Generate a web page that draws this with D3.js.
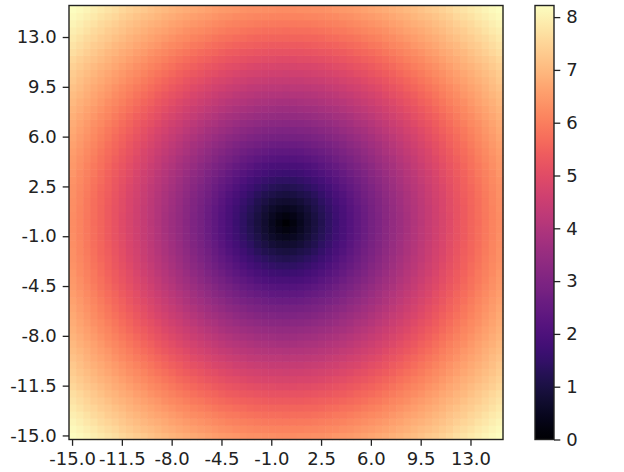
<!DOCTYPE html>
<html>
<head>
<meta charset="utf-8">
<script src="https://d3js.org/d3.v7.min.js"></script>
<style>
  body { margin: 0; background: #fff; }
  text { font-family: "DejaVu Sans", sans-serif; fill: #222; }
</style>
</head>
<body>
<svg id="chart" width="624" height="472"></svg>
<script>
// Grid coordinates (same for x and y), step 0.5
const gridValues = d3.range(61).map(i => -15 + i * 0.5);

// Tick labels shown on both axes (every 7th grid value)
const tickLabels = ["-15.0", "-11.5", "-8.0", "-4.5", "-1.0", "2.5", "6.0", "9.5", "13.0"];
const tickIndex = [0, 7, 14, 21, 28, 35, 42, 49, 56];

const profileRadius = [0, 2, 4, 6, 8, 10, 12, 14, 16, 18, 20, 21.21];
const profileValue = [0, 0.95, 1.9, 2.8, 3.62, 4.4, 5.15, 5.9, 6.6, 7.25, 7.9, 8.22];

// Colourbar ticks
const colorbarTicks = [0, 1, 2, 3, 4, 5, 6, 7, 8];

const svg = d3.select("#chart");

const plot = { left: 69, top: 5.5, size: 434 };
const cbar = { left: 535, width: 19 };

const valueOf = d3.scaleLinear().domain(profileRadius).range(profileValue);
const vmax = d3.max(profileValue);
const colorScale = d3.scaleSequential(d3.interpolateMagma).domain([0, vmax]);

const x = d3.scaleBand()
    .domain(d3.range(gridValues.length))
    .range([plot.left, plot.left + plot.size]);
// origin lower: index 0 at the bottom
const y = d3.scaleBand()
    .domain(d3.range(gridValues.length))
    .range([plot.top + plot.size, plot.top]);

// Build cells
const cells = [];
gridValues.forEach((gy, j) => {
    gridValues.forEach((gx, i) => {
        cells.push({ i, j, v: valueOf(Math.hypot(gx, gy)) });
    });
});

svg.append("g")
    .selectAll("rect")
    .data(cells)
    .enter()
    .append("rect")
    .attr("x", d => x(d.i))
    .attr("y", d => y(d.j))
    .attr("width", x.bandwidth() + 0.6)
    .attr("height", y.bandwidth() + 0.6)
    .attr("fill", d => colorScale(d.v));

// Axes
const tickLen = 6.3;
const xAxis = d3.axisBottom(x)
    .tickValues(tickIndex)
    .tickFormat((d, k) => tickLabels[k])
    .tickSize(tickLen)
    .tickPadding(6);
const yAxis = d3.axisLeft(y)
    .tickValues(tickIndex)
    .tickFormat((d, k) => tickLabels[k])
    .tickSize(tickLen)
    .tickPadding(6);

const gx = svg.append("g")
    .attr("transform", `translate(0,${plot.top + plot.size})`)
    .call(xAxis);
const gy = svg.append("g")
    .attr("transform", `translate(${plot.left},0)`)
    .call(yAxis);

[gx, gy].forEach(g => {
    g.select(".domain").remove();
    g.selectAll("line").attr("stroke", "#222").attr("stroke-width", 1.3);
    g.selectAll("text").style("font-size", "18px").attr("fill", "#222");
});

// Plot frame
svg.append("rect")
    .attr("x", plot.left)
    .attr("y", plot.top)
    .attr("width", plot.size)
    .attr("height", plot.size)
    .attr("fill", "none")
    .attr("stroke", "#222")
    .attr("stroke-width", 1.4);

// Colourbar gradient
const defs = svg.append("defs");
const grad = defs.append("linearGradient")
    .attr("id", "cbar-gradient")
    .attr("x1", "0%").attr("x2", "0%")
    .attr("y1", "100%").attr("y2", "0%");
d3.range(0, 1.0001, 0.02).forEach(t => {
    grad.append("stop")
        .attr("offset", `${t * 100}%`)
        .attr("stop-color", d3.interpolateMagma(t));
});

svg.append("rect")
    .attr("x", cbar.left)
    .attr("y", plot.top)
    .attr("width", cbar.width)
    .attr("height", plot.size)
    .style("fill", "url(#cbar-gradient)")
    .attr("stroke", "#222")
    .attr("stroke-width", 1.4);

const cScale = d3.scaleLinear()
    .domain([0, vmax])
    .range([plot.top + plot.size, plot.top]);
const cAxis = d3.axisRight(cScale)
    .tickValues(colorbarTicks)
    .tickFormat(d3.format("d"))
    .tickSize(tickLen)
    .tickPadding(6);

const gc = svg.append("g")
    .attr("transform", `translate(${cbar.left + cbar.width},0)`)
    .call(cAxis);
gc.select(".domain").remove();
gc.selectAll("line").attr("stroke", "#222").attr("stroke-width", 1.3);
gc.selectAll("text").style("font-size", "18px").attr("fill", "#222");
</script>
</body>
</html>
